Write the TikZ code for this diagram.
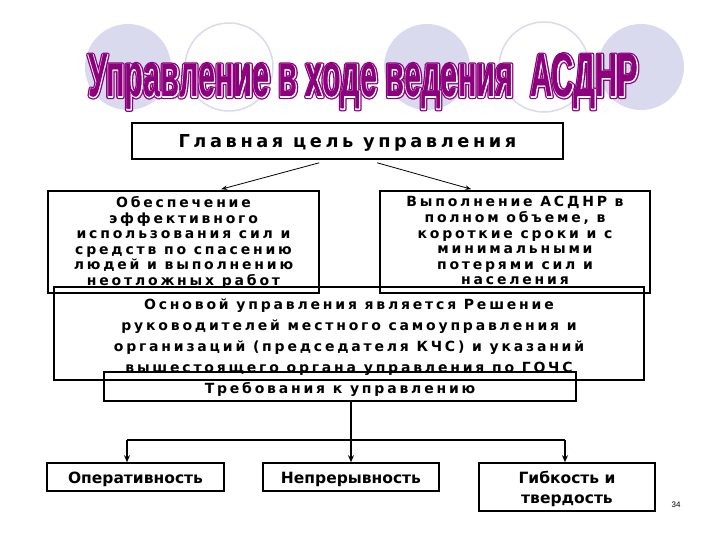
\documentclass[tikz,border=0pt]{standalone}
\usepackage{fontspec}
\usetikzlibrary{arrows.meta}
\setmainfont{DejaVu Sans}
\newfontfamily\bodyfont[LetterSpace=20]{DejaVu Sans}
\newfontfamily\plainfont{DejaVu Sans}
\newfontfamily\titlefont[FakeStretch=0.5]{Liberation Sans}
\newfontfamily\pagefont{Liberation Sans}
\definecolor{lav}{RGB}{218,218,238}
\definecolor{ttlpurple}{RGB}{140,0,125}
\newcommand{\ttlraw}{Управление в ходе ведения\ \ АСДНР}
\newcommand{\pdfops}[1]{\special{pdf:literal direct #1}}
\newcommand{\ttltext}{{\titlefont\bfseries\fontsize{61.5}{62}\selectfont
  \rlap{\pdfops{1 j 1 J 2 Tr 4.2 w}\ttlraw\pdfops{0 Tr}}%
  \rlap{\color{white}\pdfops{1 j 1 J 1 Tr 1.6 w}\ttlraw\pdfops{0 Tr 0.4 w 0 j 0 J}}%
  \ttlraw}}
\begin{document}
\begin{tikzpicture}[x=1pt,y=-1pt,
  box/.style={draw=black, line width=1.6pt, inner sep=0pt, fill=none},
  spaced/.style={font={\bodyfont\bfseries\fontsize{14}{15.6}\selectfont}, inner sep=0pt, align=center},
  plainbold/.style={inner sep=0pt, font={\plainfont\bfseries\fontsize{15.5}{20}\selectfont}},
  conn/.style={draw=black, line width=1.6pt},
  arr/.style={conn, -{Stealth[length=7pt,width=6pt]}},
  thinarr/.style={draw=black, line width=0.8pt, -{Stealth[length=6pt,width=4.5pt]}}]
\useasboundingbox (0,0) rectangle (720,540);
% title decoration circles
\fill[lav] (128,67) circle (43pt);
\draw[lav, line width=1.5pt, fill=white] (229,67) circle (44pt);
\fill[lav] (427,67) circle (43pt);
\draw[lav, line width=1.5pt, fill=white] (544,67) circle (45pt);
\fill[lav] (641,67) circle (43pt);
% title text
\node[anchor=base west, inner sep=0pt, text=ttlpurple] (title) at (88,97) {\ttltext};
% boxes
\node[box, minimum width=431pt, minimum height=36pt] (goal) at (347.5,141) {};
\node[box, minimum width=271pt, minimum height=102pt] (ob) at (183.5,242) {};
\node[box, minimum width=270pt, minimum height=102pt] (vyp) at (515,242) {};
\node[box, minimum width=590pt, minimum height=93pt] (osn) at (349,333.5) {};
\node[box, minimum width=472pt, minimum height=29pt] (req) at (340,386.5) {};
\node[box, minimum width=177pt, minimum height=28pt] (op) at (135.5,477) {};
\node[box, minimum width=176pt, minimum height=28pt] (nep) at (351,477) {};
\node[box, minimum width=176pt, minimum height=48pt] (gib) at (567,487) {};
% texts
\node[spaced, font={\bodyfont\bfseries\fontsize{17.8}{20}\selectfont}, anchor=base] (goal-t) at (347.5,148) {Главная цель управления};
\node[spaced, anchor=north] (ob-t) at (183.5,196.3) {Обеспечение\\эффективного\\использования сил и\\средств по спасению\\людей и выполнению\\неотложных работ};
\node[spaced, anchor=north] (vyp-t) at (515,196.3) {Выполнение АСДНР в\\полном объеме, в\\короткие сроки и с\\минимальными\\потерями сил и\\населения};
\node[spaced, font={\bodyfont\bfseries\fontsize{14}{21}\selectfont}, anchor=north] (osn-t) at (349,298.3) {Основой управления является Решение\\руководителей местного самоуправления и\\организаций (председателя КЧС) и указаний\\вышестоящего органа управления по ГОЧС};
\node[spaced, anchor=base] (req-t) at (340,393) {Требования к управлению};
\node[plainbold, anchor=base] (op-t) at (135.5,483) {Оперативность};
\node[plainbold, anchor=base] (nep-t) at (351,483) {Непрерывность};
\node[plainbold, align=center, anchor=north] (gib-t) at (567,471.2) {Гибкость и\\твердость};
\node[inner sep=0pt, font={\pagefont\fontsize{8}{9}\selectfont}, anchor=base] (pg) at (676,507) {34};
% connectors
\draw[thinarr] ([xshift=188pt,yshift=-3pt]goal.south west) -- ([xshift=174pt,yshift=1pt]ob.north west);
\draw[thinarr] ([xshift=246pt,yshift=-3pt]goal.south west) -- ([xshift=92pt,yshift=1pt]vyp.north west);
\coordinate (hl) at (127,440);
\coordinate (hr) at (565,440);
\draw[arr] (nep.north |- req.south) -- (nep.north);
\draw[conn] (hl) -- (hr);
\draw[arr] (hl) -- (hl |- op.north);
\draw[arr] (hr) -- (hr |- gib.north);
\end{tikzpicture}
\end{document}
